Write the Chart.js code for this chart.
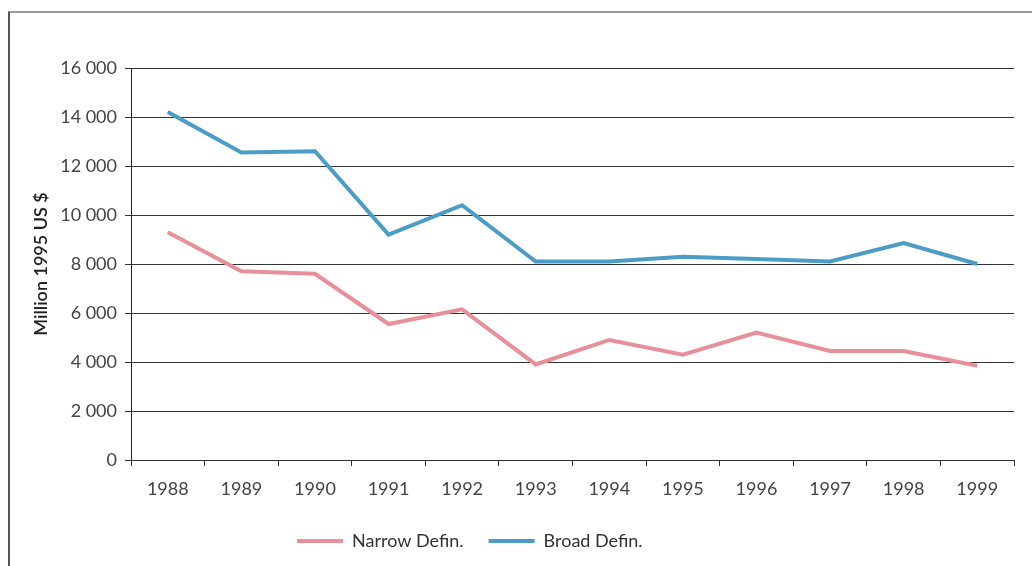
<!DOCTYPE html>
<html>
<head>
<meta charset="utf-8">
<script src="https://cdn.jsdelivr.net/npm/chart.js@4/dist/chart.umd.min.js"></script>
<style>
  html, body { margin: 0; padding: 0; background: #fff; }
  #wrap { position: relative; width: 1032px; height: 566px; overflow: hidden; }
  #frame { position: absolute; left: 8px; top: 11px; right: -4px; bottom: -4px;
           border-top: 2px solid #9a9a9a; border-left: 2px solid #555; }
  canvas { position: absolute; left: 0; top: 0; }
</style>
</head>
<body>
<div id="wrap">
  <div id="frame"></div>
  <canvas id="c" width="1032" height="566"></canvas>
</div>
<script>
const years = ['1988','1989','1990','1991','1992','1993','1994','1995','1996','1997','1998','1999'];
const narrowDefin = [9300, 7700, 7600, 5550, 6150, 3900, 4900, 4300, 5200, 4450, 4450, 3850];
const broadDefin = [14200, 12550, 12600, 9200, 10400, 8100, 8100, 8300, 8200, 8100, 8850, 8000];
const yTickLabels = ['0', '2 000', '4 000', '6 000', '8 000', '10 000', '12 000', '14 000', '16 000'];
const seriesNames = ['Narrow Defin.', 'Broad Defin.'];
const axisTitle = 'Million 1995 US $';

const FONT = 'Lato, "Open Sans", sans-serif';
const PINK = '#e8909a';
const BLUE = '#4b9cc7';

const legendShift = {
  id: 'legendShift',
  afterLayout(chart) {
    const lg = chart.legend;
    if (!lg || !lg.lineWidths) return;
    const pad = lg.options.labels.padding;
    const x0 = (lg.left + pad + lg.right - lg.lineWidths[0]) / 2;
    const d = 297 - x0;
    lg.left += d; lg.right += d;
  }
};

new Chart(document.getElementById('c'), {
  type: 'line',
  data: {
    labels: years,
    datasets: [
      { label: seriesNames[0], data: narrowDefin, borderColor: PINK, backgroundColor: PINK,
        borderWidth: 4, pointRadius: 0, tension: 0, borderJoinStyle: 'miter', borderCapStyle: 'butt' },
      { label: seriesNames[1], data: broadDefin, borderColor: BLUE, backgroundColor: BLUE,
        borderWidth: 4, pointRadius: 0, tension: 0, borderJoinStyle: 'miter', borderCapStyle: 'butt' }
    ]
  },
  options: {
    responsive: false,
    animation: false,
    layout: { padding: { left: 27, right: 18, top: 68, bottom: 6 } },
    plugins: {
      tooltip: { enabled: false },
      legend: {
        position: 'bottom',
        labels: {
          boxWidth: 46, boxHeight: 4, padding: 25,
          color: '#333',
          font: { family: FONT, size: 18 },
          generateLabels: (chart) => Chart.defaults.plugins.legend.labels.generateLabels(chart)
            .map(l => Object.assign({}, l, { lineWidth: 0, fillStyle: l.strokeStyle }))
        }
      }
    },
    scales: {
      x: {
        offset: true,
        grid: {
          offset: true,
          drawOnChartArea: true,
          color: (ctx) => ctx.index === years.length ? '#555' : 'rgba(0,0,0,0)',
          tickColor: '#333',
          tickLength: 6,
          lineWidth: 1
        },
        border: { display: true, color: '#333', width: 1 },
        ticks: { color: '#444', font: { family: FONT, size: 18 }, padding: 12, maxRotation: 0 },
        afterFit: (s) => { s.height = 47; }
      },
      y: {
        min: 0, max: 16000,
        ticks: {
          stepSize: 2000,
          color: '#444',
          font: { family: FONT, size: 18 },
          padding: 8,
          callback: (v) => yTickLabels[Math.round(v / 2000)]
        },
        grid: { color: '#333', lineWidth: 1, tickLength: 6, tickColor: '#333' },
        border: { display: true, color: '#222', width: 1 },
        title: { display: true, text: axisTitle, color: '#222',
                 font: { family: FONT, size: 18, weight: '600' }, padding: { top: 3, bottom: 4 } },
        afterFit: (s) => { s.width = 104; }
      }
    }
  },
  plugins: [legendShift]
});
</script>
</body>
</html>
